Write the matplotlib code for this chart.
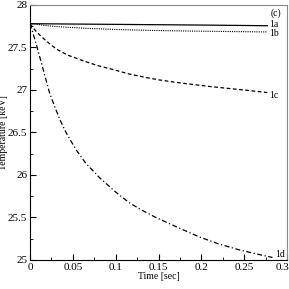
import numpy as np
import matplotlib.pyplot as plt
import matplotlib.transforms as mtransforms
from matplotlib.ticker import MultipleLocator, FuncFormatter

# values
t_a = [0.0, 0.05, 0.1, 0.15, 0.2, 0.25, 0.277]
T_a = [27.78, 27.776, 27.772, 27.768, 27.764, 27.759, 27.756]

t_b = [0.0, 0.005, 0.01, 0.021, 0.04, 0.067, 0.1, 0.134, 0.17, 0.2, 0.24, 0.277]
T_b = [27.78, 27.775, 27.77, 27.755, 27.74, 27.725, 27.712, 27.703, 27.696, 27.692, 27.687, 27.683]

t_c = [0.0, 0.003, 0.007, 0.012, 0.021, 0.031, 0.044, 0.055, 0.066, 0.08, 0.099, 0.115,
       0.134, 0.15, 0.17, 0.19, 0.211, 0.23, 0.25, 0.277]
T_c = [27.78, 27.74, 27.69, 27.64, 27.56, 27.48, 27.41, 27.37, 27.33, 27.285, 27.235, 27.19,
       27.15, 27.12, 27.09, 27.065, 27.04, 27.02, 27.0, 26.97]

t_d = [0.0, 0.002, 0.004, 0.007, 0.01, 0.013, 0.017, 0.023, 0.029, 0.035, 0.041, 0.0465,
       0.055, 0.065, 0.081, 0.1, 0.115, 0.128, 0.145, 0.16, 0.18, 0.198, 0.22, 0.244, 0.265, 0.283]
T_d = [27.78, 27.72, 27.65, 27.55, 27.44, 27.33, 27.18, 26.96, 26.8, 26.65, 26.52, 26.42,
       26.28, 26.14, 25.97, 25.8, 25.68, 25.6, 25.51, 25.44, 25.35, 25.27, 25.19, 25.12, 25.07, 25.03]

labels = ["1a", "1b", "1c", "1d"]
xtick_labels = ['0', '0.05', '0.1', '0.15', '0.2', '0.25', '0.3']

plt.rcParams['font.family'] = ['Liberation Serif', 'DejaVu Serif']

fig = plt.figure(figsize=(2.89, 2.89), dpi=100)
ax = fig.add_axes([30/289, 29/289, 257/289, 255/289])

ax.plot(t_a, T_a, color='black', lw=0.9, ls='-')
ax.plot(t_b, T_b, color='black', lw=0.8, ls=(0, (1, 1)))
ax.plot(t_c, T_c, color='black', lw=0.9, ls=(0, (3, 2)))
ax.plot(t_d, T_d, color='black', lw=0.9, ls=(0, (4, 2, 1, 2)))

ax.text(0.279, T_a[-1] + 0.01, labels[0], fontsize=7, va='center')
ax.text(0.279, T_b[-1] - 0.015, labels[1], fontsize=7, va='center')
ax.text(0.279, T_c[-1] - 0.03, labels[2], fontsize=7, va='center')
ax.text(0.286, T_d[-1] + 0.04, labels[3], fontsize=7, va='center')
ax.text(0.281, 27.9, "(c)", fontsize=7, va='center')

ax.set_xlim(0, 0.3)
ax.set_ylim(25, 28)
ax.xaxis.set_minor_locator(MultipleLocator(0.025))
ax.yaxis.set_major_locator(MultipleLocator(0.5))
ax.yaxis.set_minor_locator(MultipleLocator(0.25))
ax.set_xticks(np.arange(0, 0.31, 0.05))
ax.set_xticklabels(xtick_labels)
ax.yaxis.set_major_formatter(FuncFormatter(lambda v, p: '%g' % round(v, 3)))
ax.tick_params(which='both', direction='in', top=False, right=False, labelsize=8, pad=2)
ax.tick_params(which='major', length=4)
ax.tick_params(which='minor', length=2)
for s in ['top', 'right']:
    ax.spines[s].set_color('#888888')

# nudge the last x tick label so it stays inside the figure
last = ax.get_xticklabels()[-1]
last.set_transform(last.get_transform() + mtransforms.ScaledTranslation(-4/100, 0, fig.dpi_scale_trans))

ax.set_xlabel('Time [sec]', fontsize=7, labelpad=0)
ax.set_ylabel('Temperature [keV]', fontsize=7)
ax.yaxis.set_label_coords(-0.085, 0.5)

fig.savefig('out.png', dpi=100)
